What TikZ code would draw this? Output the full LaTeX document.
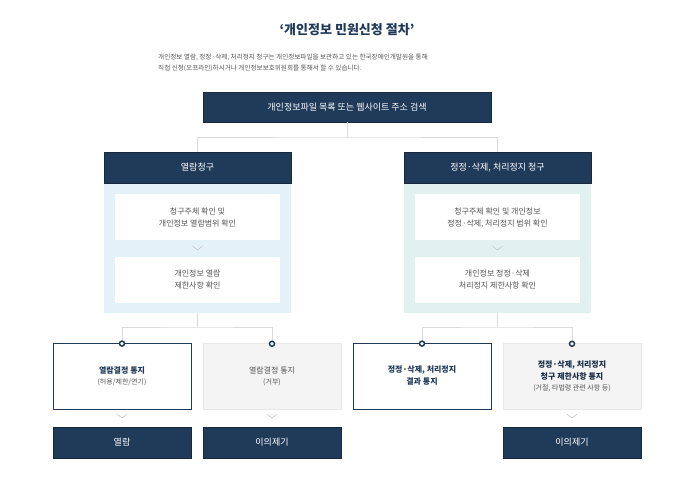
\documentclass[tikz,border=0pt]{standalone}
\usepackage{fontspec}
\setmainfont{Noto Sans CJK KR}
\newfontfamily\kb[BoldFont={Noto Sans CJK KR Bold}]{Noto Sans CJK KR}
\definecolor{navy}{HTML}{203B5A}
\definecolor{pblue}{HTML}{E3F1F8}
\definecolor{pteal}{HTML}{E1F1F0}
\definecolor{gtxt}{HTML}{555555}
\definecolor{lgray}{HTML}{D9D9D9}
\definecolor{gbox}{HTML}{F4F4F4}
\begin{document}
\begin{tikzpicture}[x=1pt,y=-1pt,
  dark/.style={fill=navy,draw=navy!70!black,text=white,font=\fontsize{9}{11}\selectfont,inner sep=0pt},
  inner/.style={fill=white,text=gtxt,font=\fontsize{8}{12}\selectfont,align=center,inner sep=0pt},
  wbox/.style={fill=white,draw=navy,line width=0.8pt,text=navy,font=\fontsize{8}{12}\selectfont\bfseries,align=center,inner sep=0pt},
  gbx/.style={fill=gbox,draw=lgray!60,text=gtxt,font=\fontsize{8}{12}\selectfont,align=center,inner sep=0pt},
  conn/.style={draw=lgray,line width=0.8pt},
  chev/.style={draw=lgray!80!gray,line width=0.6pt},
  dot/.style={circle,draw=navy,fill=white,line width=1.5pt,minimum size=5pt,inner sep=0pt}]
\useasboundingbox (0,0) rectangle (700,502);
\node (title) at (347,30) {\color{navy}\fontsize{13}{15}\selectfont\bfseries ‘개인정보 민원신청 절차’};
\node[anchor=north west,text=gtxt,align=left,font=\fontsize{6.6}{11}\selectfont,inner sep=0pt] (desc) at (158,54) {개인정보 열람, 정정·삭제, 처리정지 청구는 개인정보파일을 보관하고 있는 한국장애인개발원을 통해\\직접 신청(오프라인)하시거나 개인정보보호위원회를 통해서 할 수 있습니다.};
\node[dark,minimum width=288pt,minimum height=30pt] (top) at (347,107) {개인정보파일 목록 또는 웹사이트 주소 검색};
% panels
\fill[pblue] (104,183) rectangle (291,313);
\fill[pteal] (404,183) rectangle (591,313);
\node[dark,minimum width=187pt,minimum height=31pt] (lh) at (197.5,167.5) {열람청구};
\node[dark,minimum width=187pt,minimum height=31pt] (rh) at (497.5,167.5) {정정·삭제, 처리정지 청구};
\node[inner,minimum width=165pt,minimum height=46pt] (l1) at (197.5,217.5) {청구주체 확인 및\\개인정보 열람범위 확인};
\node[inner,minimum width=165pt,minimum height=46pt] (l2) at (197.5,279.5) {개인정보 열람\\제한사항 확인};
\node[inner,minimum width=165pt,minimum height=46pt] (r1) at (497.5,217.5) {청구주체 확인 및 개인정보\\정정·삭제, 처리정지 범위 확인};
\node[inner,minimum width=165pt,minimum height=46pt] (r2) at (497.5,279.5) {개인정보 정정·삭제\\처리정지 제한사항 확인};
\foreach \x/\y in {197.5/246,497.5/246,122/414,272/414,572/414}
  \draw[chev] (\x-5,\y) -- (\x,\y+4) -- (\x+5,\y);
% top connector
\coordinate (tj) at (347,137);
\draw[conn] (top.south) -- (tj);
\draw[conn] (lh.north) |- (tj) -| (rh.north);
% bottom boxes
\node[wbox,minimum width=138pt,minimum height=66pt] (b1) at (122,376) {열람결정 통지\\[-1pt]{\mdseries\fontsize{7}{11}\selectfont\color{gtxt}(허용/제한/연기)}};
\node[gbx,minimum width=138pt,minimum height=66pt] (b2) at (272,376) {열람결정 통지\\[-1pt]{\fontsize{7}{11}\selectfont(거부)}};
\node[wbox,minimum width=138pt,minimum height=66pt] (b3) at (422,376) {정정·삭제, 처리정지\\결과 통지};
\node[gbx,minimum width=138pt,minimum height=66pt] (b4) at (572,376) {\textbf{\color{navy!80!black}정정·삭제, 처리정지}\\\textbf{\color{navy!80!black}청구 제한사항 통지}\\[-1pt]{\fontsize{7}{11}\selectfont(거절, 타법령 관련 사항 등)}};
\node[dark,minimum width=138pt,minimum height=31pt] (e1) at (122,442.5) {열람};
\node[dark,minimum width=138pt,minimum height=31pt] (e2) at (272,442.5) {이의제기};
\node[dark,minimum width=138pt,minimum height=31pt] (e4) at (572,442.5) {이의제기};
% lower connectors
\coordinate (lj) at (197.5,327);
\coordinate (rj) at (497.5,327);
\draw[conn] (197.5,313) -- (lj);
\draw[conn] (497.5,313) -- (rj);
\draw[conn] (b1.north) |- (lj) -| (b2.north);
\draw[conn] (b3.north) |- (rj) -| (b4.north);
\foreach \b in {b1,b2,b3,b4} \node[dot] at ([yshift=-1pt]\b.north) {};
\end{tikzpicture}
\end{document}
